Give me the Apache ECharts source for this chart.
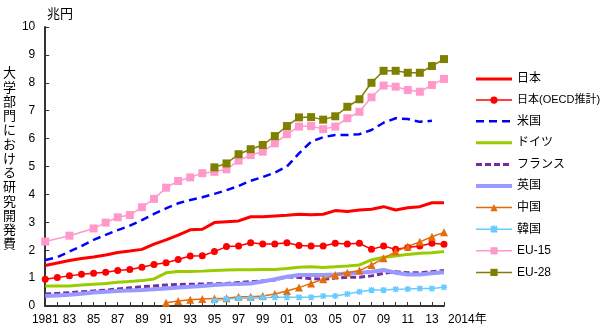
<!DOCTYPE html>
<html>
<head>
<meta charset="utf-8">
<script src="https://cdn.jsdelivr.net/npm/echarts@6.0.0/dist/echarts.min.js"></script>
<style>html,body{margin:0;padding:0;background:#fff}#c{width:600px;height:330px}</style>
</head>
<body>
<div id="c"></div>
<script>
const years = ['1981','1982','1983','1984','1985','1986','1987','1988','1989','1990','1991','1992','1993','1994','1995','1996','1997','1998','1999','2000','2001','2002','2003','2004','2005','2006','2007','2008','2009','2010','2011','2012','2013','2014'];
const xTickLabels = ['1981','','83','','85','','87','','89','','91','','93','','95','','97','','99','','01','','03','','05','','07','','09','','11','','13',''];
const yTickLabels = ['0','1','2','3','4','5','6','7','8','9','10'];
const seriesNames = ['日本','日本(OECD推計)','米国','ドイツ','フランス','英国','中国','韓国','EU-15','EU-28'];
const japan = [1.45,1.54,1.63,1.70,1.76,1.83,1.92,1.97,2.03,2.22,2.37,2.54,2.73,2.75,2.99,3.02,3.05,3.20,3.20,3.23,3.25,3.29,3.27,3.29,3.42,3.39,3.44,3.47,3.56,3.44,3.52,3.56,3.70,3.70];
const japanOECD = [0.96,1.02,1.08,1.14,1.17,1.21,1.27,1.31,1.39,1.49,1.55,1.67,1.79,1.80,1.95,2.13,2.15,2.27,2.22,2.22,2.27,2.17,2.15,2.15,2.25,2.22,2.25,2.03,2.15,2.03,2.10,2.15,2.25,2.21];
const usa = [1.65,1.75,1.95,2.15,2.37,2.55,2.72,2.88,3.08,3.30,3.50,3.68,3.80,3.90,4.02,4.15,4.30,4.49,4.62,4.78,5.00,5.47,5.89,6.05,6.13,6.13,6.16,6.31,6.57,6.73,6.70,6.60,6.64,null];
const germany = [0.72,0.72,0.72,0.75,0.78,0.81,0.85,0.88,0.91,0.97,1.19,1.24,1.24,1.25,1.27,1.29,1.30,1.30,1.31,1.31,1.34,1.39,1.41,1.38,1.41,1.43,1.47,1.65,1.75,1.79,1.85,1.89,1.91,1.95];
const france = [0.43,0.45,0.48,0.51,0.54,0.57,0.61,0.65,0.69,0.72,0.75,0.77,0.78,0.79,0.80,0.81,0.84,0.87,0.90,0.93,1.05,1.02,0.98,0.96,1.00,1.03,1.03,1.08,1.17,1.23,1.19,1.19,1.23,1.27];
const uk = [0.36,0.38,0.40,0.44,0.48,0.51,0.54,0.56,0.57,0.60,0.63,0.66,0.69,0.72,0.75,0.78,0.79,0.81,0.88,0.96,1.05,1.11,1.11,1.11,1.13,1.17,1.19,1.23,1.29,1.19,1.13,1.13,1.17,1.21];
const china = [null,null,null,null,null,null,null,null,null,null,0.12,0.18,0.22,0.25,0.27,0.28,0.33,0.33,0.36,0.43,0.54,0.66,0.81,0.96,1.11,1.19,1.27,1.47,1.71,1.95,2.13,2.30,2.48,2.64];
const korea = [null,null,null,null,null,null,null,null,null,null,null,null,null,null,0.19,0.25,0.28,0.28,0.30,0.31,0.31,0.31,0.31,0.36,0.36,0.43,0.51,0.57,0.57,0.60,0.61,0.63,0.63,0.67];
const eu15 = [2.31,null,2.52,null,2.78,2.99,3.18,3.26,3.54,3.84,4.24,4.48,4.61,4.76,4.81,4.90,5.21,5.41,5.53,5.83,6.16,6.43,6.45,6.34,6.43,6.73,6.96,7.48,7.90,7.86,7.74,7.68,7.92,8.14];
const eu28 = [null,null,null,null,null,null,null,null,null,null,null,null,null,null,4.97,5.11,5.44,5.62,5.77,6.09,6.45,6.76,6.77,6.68,6.80,7.14,7.41,8.00,8.43,8.43,8.36,8.36,8.60,8.85];

const FONT = "'Liberation Sans', Arial, 'Noto Sans CJK JP', sans-serif";
const yName = '大学部門における研究開発費'.split('').join('\n') + '\n ';
const asterisk = 'path://M0,0L10,10M10,0L0,10M5,-1L5,11M-1,5L11,5';
const noSymbol = {opacity: 0};

function line(name, data, color, width, extra) {
  return Object.assign({
    name: name, type: 'line', data: data, connectNulls: true,
    symbol: 'none', lineStyle: {color: color, width: width},
    itemStyle: {color: color}, z: 2
  }, extra || {});
}

const legendData = [
  {name: seriesNames[0], itemStyle: noSymbol, lineStyle: {width: 3}},
  {name: seriesNames[1], lineStyle: {width: 1.5}, textStyle: {fontSize: 11}},
  {name: seriesNames[2], itemStyle: noSymbol, lineStyle: {width: 2.5}},
  {name: seriesNames[3], itemStyle: noSymbol, lineStyle: {width: 3}},
  {name: seriesNames[4], itemStyle: noSymbol, lineStyle: {width: 3}},
  {name: seriesNames[5], itemStyle: noSymbol, lineStyle: {width: 4}},
  {name: seriesNames[6], lineStyle: {width: 1.5}},
  {name: seriesNames[7], lineStyle: {width: 1.5}},
  {name: seriesNames[8], lineStyle: {width: 1.5}},
  {name: seriesNames[9], lineStyle: {width: 1.5}}
];

const chart = echarts.init(document.getElementById('c'), null, {renderer: 'canvas'});
chart.setOption({
  animation: false,
  backgroundColor: '#fff',
  textStyle: {fontFamily: FONT, color: '#000'},
  title: {text: '兆円', left: 47, top: 8, padding: 0, textStyle: {fontSize: 13, fontWeight: 'normal', color: '#000', fontFamily: FONT}},
  grid: {left: 43, right: 156, top: 27, bottom: 24, containLabel: false},
  legend: {
    orient: 'vertical', left: 469, top: 68, itemWidth: 36, itemHeight: 9, itemGap: 9.6,
    textStyle: {fontSize: 12, color: '#000', fontFamily: FONT},
    data: legendData
  },
  xAxis: {
    type: 'category', data: years, boundaryGap: false,
    name: '2014年', nameLocation: 'end', nameGap: 4,
    nameTextStyle: {fontSize: 12, color: '#000', align: 'left', verticalAlign: 'top', padding: [8, 0, 0, 0], fontFamily: FONT},
    axisLine: {lineStyle: {color: '#333', width: 2}},
    axisTick: {inside: true, length: 4, interval: 0, lineStyle: {color: '#333', width: 1}},
    axisLabel: {interval: 0, margin: 8, fontSize: 12, color: '#000', fontFamily: FONT,
      formatter: function (v, i) { return xTickLabels[i]; }},
    splitLine: {show: false}
  },
  yAxis: {
    type: 'value', min: 0, max: 10, interval: 1,
    name: yName, nameLocation: 'middle', nameGap: 28, nameRotate: 0,
    nameTextStyle: {fontSize: 13, lineHeight: 14.25, color: '#000', fontFamily: FONT},
    axisLine: {show: true, lineStyle: {color: '#333', width: 2}},
    axisTick: {show: true, inside: true, length: 4, lineStyle: {color: '#333', width: 1}},
    axisLabel: {margin: 10, fontSize: 12, color: '#000', fontFamily: FONT,
      formatter: function (v) { return yTickLabels[Math.round(v)]; }},
    splitLine: {show: false}
  },
  series: [
    line(seriesNames[0], japan, '#ff0000', 3),
    line(seriesNames[1], japanOECD, '#ff0000', 1.5, {symbol: 'circle', symbolSize: 7, showSymbol: true}),
    line(seriesNames[2], usa, '#0000ff', 2.5, {lineStyle: {color: '#0000ff', width: 2.5, type: [8, 5]}}),
    line(seriesNames[3], germany, '#99cc00', 3),
    line(seriesNames[4], france, '#7030a0', 3, {lineStyle: {color: '#7030a0', width: 3, type: [6, 3]}}),
    line(seriesNames[5], uk, '#9999ff', 4),
    line(seriesNames[6], china, '#e46c0a', 1.5, {symbol: 'triangle', symbolSize: 8, showSymbol: true}),
    line(seriesNames[7], korea, '#66ccff', 1.5, {symbol: asterisk, symbolSize: 6, showSymbol: true,
      itemStyle: {color: '#66ccff', borderColor: '#66ccff', borderWidth: 1.5}}),
    line(seriesNames[8], eu15, '#ff99cc', 1.5, {symbol: 'rect', symbolSize: 8, showSymbol: true}),
    line(seriesNames[9], eu28, '#808000', 1.5, {symbol: 'rect', symbolSize: 8, showSymbol: true})
  ]
});
</script>
</body>
</html>
